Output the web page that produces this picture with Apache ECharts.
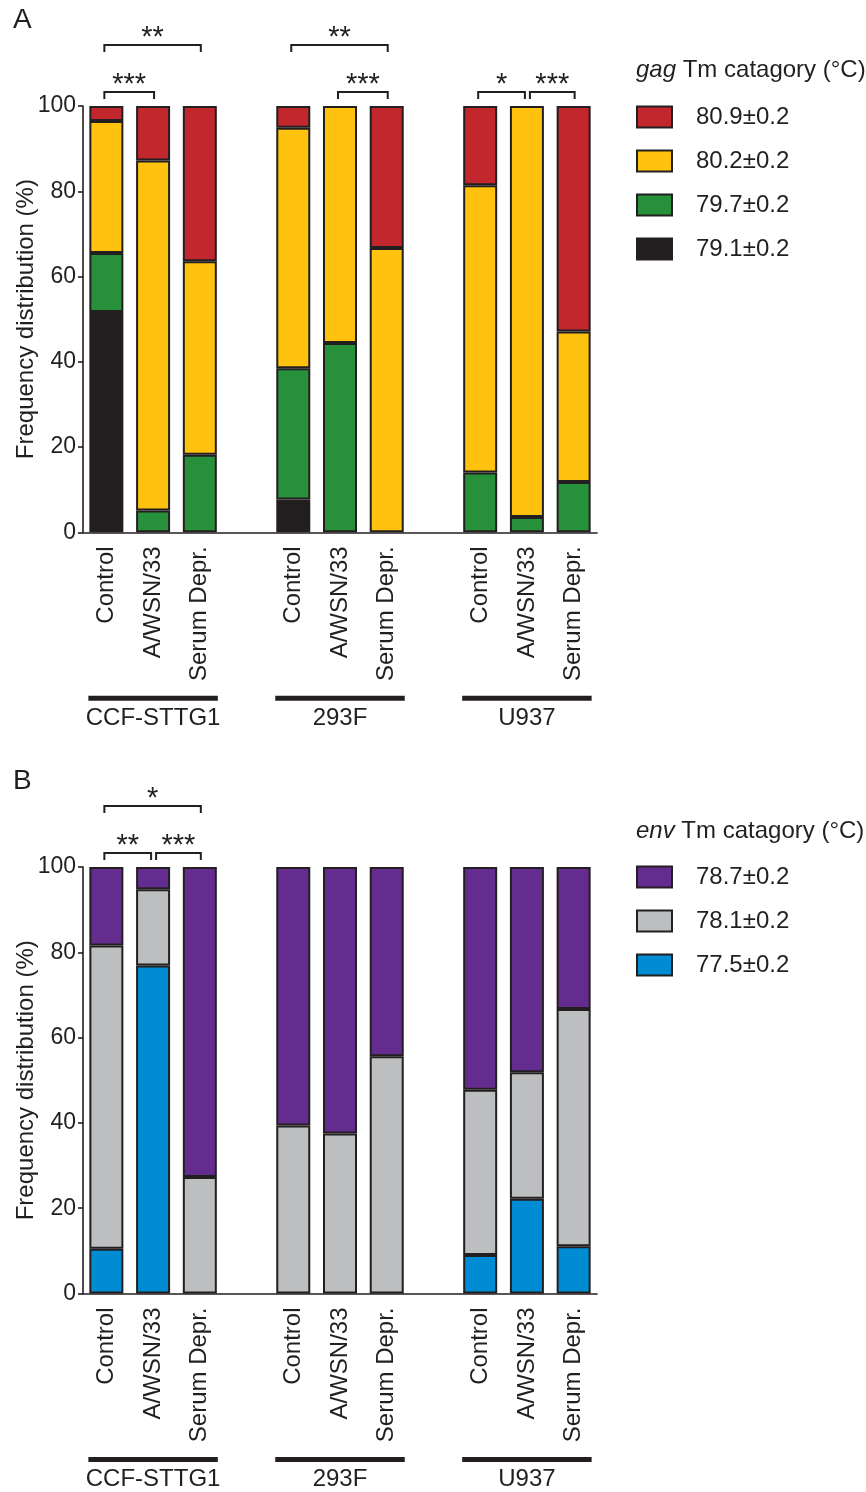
<!DOCTYPE html>
<html><head><meta charset="utf-8">
<script src="https://cdn.jsdelivr.net/npm/echarts@6/dist/echarts.min.js"></script>
<style>html,body{margin:0;padding:0;background:#fff}#c{width:866px;height:1492px}</style>
</head><body><div id="c"></div>
<script>
// ---------- data ----------
const categories = ['Control','A/WSN/33','Serum Depr.','','Control','A/WSN/33','Serum Depr.','','Control','A/WSN/33','Serum Depr.'];
const groups = ['CCF-STTG1','293F','U937'];
const groupSpans = [[0,2],[4,6],[8,10]];
const yTicks = [0,20,40,60,80,100];

// panel A: gag Tm categories (%), bottom to top
const gagNames = ['79.1±0.2','79.7±0.2','80.2±0.2','80.9±0.2'];
const gag791 = [51.7, 0,    0,    '-', 7.7,  0,    0,    '-', 0,    0,    0];
const gag797 = [13.8, 5.1,  18.2, '-', 30.8, 44.4, 0,    '-', 14.0, 3.6,  11.8];
const gag802 = [31.0, 82.1, 45.4, '-', 56.4, 55.6, 66.7, '-', 67.4, 96.4, 35.3];
const gag809 = [3.5,  12.8, 36.4, '-', 5.1,  0,    33.3, '-', 18.6, 0,    52.9];

// panel B: env Tm categories (%), bottom to top
const envNames = ['77.5±0.2','78.1±0.2','78.7±0.2'];
const env775 = [10.5, 76.9, 0,    '-', 0,    0,    0,    '-', 9.0,  22.2, 11.1];
const env781 = [71.1, 17.9, 27.3, '-', 39.4, 37.5, 55.6, '-', 38.8, 29.7, 55.6];
const env787 = [18.4, 5.2,  72.7, '-', 60.6, 62.5, 44.4, '-', 52.2, 48.1, 33.3];

const sigA = [
  {from:0,to:2,level:2,label:'**'},
  {from:0,to:1,level:1,label:'***'},
  {from:4,to:6,level:2,label:'**'},
  {from:5,to:6,level:1,label:'***'},
  {from:8,to:9,level:1,label:'*'},
  {from:9,to:10,level:1,label:'***'}
];
const sigB = [
  {from:0,to:2,level:2,label:'*'},
  {from:0,to:1,level:1,label:'**'},
  {from:1,to:2,level:1,label:'***'}
];

// ---------- styles ----------
const FONT = "'Liberation Sans', Arial, Helvetica, sans-serif";
const INK = '#231f20';
const gagColors = ['#231f20','#27903b','#ffc20e','#c1272d'];
const envColors = ['#008cd2','#bcbec0','#652c90'];
const BAR_W = 34;

const clean = arr => arr.map(v => v === 0 ? '-' : v);

function makeSeries(names, arrays, colors, idx) {
  return names.map((n, i) => ({
    name: n, type: 'bar', stack: 'p' + idx, xAxisIndex: idx, yAxisIndex: idx,
    barWidth: BAR_W, data: clean(arrays[i]),
    itemStyle: { color: colors[i], borderColor: INK, borderWidth: 2 },
    emphasis: { disabled: true }
  }));
}

function xAxis(idx) {
  return {
    type: 'category', gridIndex: idx, data: categories,
    axisLine: { lineStyle: { color: INK, width: 1.6 } },
    axisTick: { show: false },
    axisLabel: { rotate: 90, interval: 0, fontSize: 24, margin: 14, color: INK, fontFamily: FONT }
  };
}
function yAxis(idx) {
  return {
    type: 'value', gridIndex: idx, min: 0, max: 100, interval: 20,
    name: 'Frequency distribution (%)', nameLocation: 'middle', nameGap: 45,
    nameMoveOverlap: false,
    nameTextStyle: { fontSize: 24, color: INK, fontFamily: FONT },
    axisLine: { show: true, lineStyle: { color: INK, width: 1.6 } },
    axisTick: { show: true, length: 5, lineStyle: { color: INK, width: 1.6 } },
    axisLabel: { fontSize: 23, margin: 7, color: INK, fontFamily: FONT,
      formatter: v => yTicks.includes(v) ? String(v) : '' },
    splitLine: { show: false }
  };
}
function legend(names, top) {
  return {
    data: names.slice().reverse(), orient: 'vertical', left: 636, top: top,
    itemWidth: 35, itemHeight: 21, itemGap: 20, icon: 'rect', selectedMode: false,
    padding: 0,
    textStyle: { fontSize: 24, lineHeight: 22, color: INK, fontFamily: FONT, padding: [0,0,0,19] }
  };
}
function titleText(text, left, top, size, rich) {
  return { text, left, top, padding: 0,
    textStyle: { fontSize: size, fontWeight: 'normal', color: INK, fontFamily: FONT,
      rich: rich ? { i: { fontStyle: 'italic', fontSize: size, color: INK, fontFamily: FONT } } : undefined } };
}

const chart = echarts.init(document.getElementById('c'), null, { renderer: 'canvas' });
chart.setOption({
  animation: false,
  textStyle: { fontFamily: FONT },
  title: [
    titleText('A', 13, 6, 28),
    titleText('B', 13, 767, 28),
    titleText('{i|gag} Tm catagory (°C)', 636, 58, 24, true),
    titleText('{i|env} Tm catagory (°C)', 636, 819, 24, true)
  ],
  grid: [
    { left: 83, right: 269, top: 106, height: 426.3, outerBoundsMode: 'none', containLabel: false },
    { left: 83, right: 269, top: 867, height: 426.5, outerBoundsMode: 'none', containLabel: false }
  ],
  xAxis: [xAxis(0), xAxis(1)],
  yAxis: [yAxis(0), yAxis(1)],
  legend: [legend(gagNames, 105), legend(envNames, 865)],
  series: [
    ...makeSeries(gagNames, [gag791, gag797, gag802, gag809], gagColors, 0),
    ...makeSeries(envNames, [env775, env781, env787], envColors, 1)
  ]
});

// ---------- annotations computed from the axes ----------
function px(idx, cat, val) {
  return chart.convertToPixel({ xAxisIndex: idx, yAxisIndex: idx }, [cat, val]);
}
const graphics = [];
function addSig(list, idx) {
  const topY = px(idx, 0, 100)[1];
  list.forEach(s => {
    const y = s.level === 1 ? topY - 14 : topY - 61;
    const sharedStart = list.some(o => o !== s && o.level === s.level && o.to === s.from);
    const sharedEnd = list.some(o => o !== s && o.level === s.level && o.from === s.to);
    const x1 = px(idx, s.from, 0)[0] + (sharedStart ? 3 : -2);
    const x2 = px(idx, s.to, 0)[0] + (sharedEnd ? -2 : 1);
    graphics.push({ type: 'polyline', silent: true,
      shape: { points: [[x1, y + 7], [x1, y], [x2, y], [x2, y + 7]] },
      style: { stroke: INK, lineWidth: 2, fill: null } });
    graphics.push({ type: 'text', silent: true, x: (x1 + x2) / 2, y: y - 7,
      style: { text: s.label, font: '29px ' + FONT, fill: INK, align: 'center', verticalAlign: 'middle' } });
  });
}
function addGroups(idx) {
  const baseY = px(idx, 0, 0)[1];
  groups.forEach((g, i) => {
    const [a, b] = groupSpans[i];
    const xa = px(idx, a, 0)[0] - BAR_W / 2 - 1;
    const xb = px(idx, b, 0)[0] + BAR_W / 2 + 1;
    graphics.push({ type: 'rect', silent: true,
      shape: { x: xa, y: baseY + 163.5, width: xb - xa, height: 5 },
      style: { fill: INK } });
    graphics.push({ type: 'text', silent: true, x: (xa + xb) / 2, y: baseY + 186,
      style: { text: g, font: '24px ' + FONT, fill: INK, align: 'center', verticalAlign: 'middle' } });
  });
}
addSig(sigA, 0); addSig(sigB, 1);
addGroups(0); addGroups(1);
chart.setOption({ graphic: graphics });
</script></body></html>
